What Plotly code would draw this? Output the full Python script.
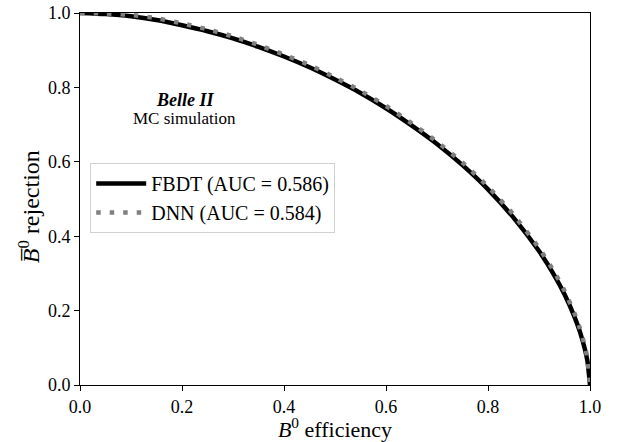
import plotly.graph_objects as go

eff = [0.0, 0.05, 0.1, 0.15, 0.2, 0.25, 0.3, 0.35, 0.4, 0.45, 0.5, 0.55, 0.6,
       0.65, 0.7, 0.75, 0.8, 0.85, 0.9, 0.93, 0.95, 0.97, 0.98, 0.99, 0.995, 1.0]
rej_fbdt = [1.0, 0.997, 0.991, 0.981, 0.967, 0.951, 0.932, 0.909, 0.883, 0.854, 0.821,
            0.785, 0.744, 0.698, 0.648, 0.591, 0.526, 0.450, 0.360, 0.295, 0.244,
            0.182, 0.144, 0.096, 0.064, 0.0]
rej_dnn = [1.0, 0.999, 0.995, 0.986, 0.972, 0.956, 0.937, 0.914, 0.888, 0.860, 0.827,
           0.791, 0.750, 0.704, 0.654, 0.598, 0.533, 0.458, 0.368, 0.304, 0.253,
           0.191, 0.153, 0.104, 0.070, 0.0]

labels = ["FBDT (AUC = 0.586)", "DNN (AUC = 0.584)"]
ticks = [0.0, 0.2, 0.4, 0.6, 0.8, 1.0]

FONT = "Liberation Serif"

fig = go.Figure()
fig.add_trace(go.Scatter(x=eff, y=rej_fbdt, mode="lines", name=labels[0],
                         line=dict(color="black", width=4.5, shape="spline", smoothing=0.6)))
fig.add_trace(go.Scatter(x=eff, y=rej_dnn, mode="lines", name=labels[1],
                         line=dict(color="#808080", width=4.5, dash="4.5px,9px",
                                   shape="spline", smoothing=0.6)))

axis_common = dict(range=[0, 1], tickvals=ticks, tickformat=".1f", ticks="outside",
                   ticklen=5, tickcolor="black", showline=True, linecolor="black",
                   linewidth=1, mirror=True, showgrid=False, zeroline=False,
                   automargin=False, ticklabeloverflow="allow",
                   tickfont=dict(family=FONT, size=18, color="black"))

fig.update_layout(
    width=618, height=442,
    margin=dict(l=80, r=28, t=13, b=57),
    plot_bgcolor="white", paper_bgcolor="white",
    font=dict(family=FONT, color="black"),
    xaxis=dict(**axis_common, title=dict(text="<i>B</i><sup>0</sup> efficiency",
                                         font=dict(size=22), standoff=2)),
    yaxis=dict(**axis_common),
    legend=dict(x=0.02, y=0.597, xanchor="left", yanchor="top",
                bgcolor="white", bordercolor="#d0d0d0", borderwidth=1,
                font=dict(family=FONT, size=20), itemwidth=50, tracegroupgap=0),
    showlegend=True,
)

# y-axis title
fig.add_annotation(x=0, y=0.478, xref="paper", yref="paper", xanchor="center",
                   yanchor="middle", xshift=-51, textangle=-90, showarrow=False,
                   text="<i>B\u0305</i><sup>0</sup> rejection",
                   font=dict(family=FONT, size=24))

fig.add_annotation(x=0.205, y=0.766, xref="x", yref="y", text="<b><i>Belle II</i></b>",
                   showarrow=False, font=dict(family=FONT, size=18))
fig.add_annotation(x=0.205, y=0.716, xref="x", yref="y", text="MC simulation",
                   showarrow=False, font=dict(family=FONT, size=17))

fig.write_html("out.html", config={"displayModeBar": False},
               post_script="document.body.style.margin='0';document.body.style.overflow='hidden';")
